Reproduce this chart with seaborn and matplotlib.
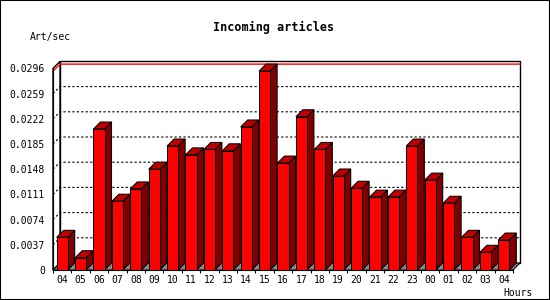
import matplotlib
matplotlib.use("Agg")
import matplotlib.pyplot as plt
from matplotlib.patches import Polygon, Rectangle
import numpy as np
import pandas as pd
import seaborn as sns

# ---- data ----
hours = ["04", "05", "06", "07", "08", "09", "10", "11", "12", "13", "14", "15",
         "16", "17", "18", "19", "20", "21", "22", "23", "00", "01", "02", "03", "04"]
values = [0.0048, 0.0018, 0.0207, 0.0101, 0.0119, 0.0148, 0.0182, 0.0169, 0.0177,
          0.0175, 0.0210, 0.0292, 0.0157, 0.0225, 0.0177, 0.0138, 0.0120, 0.0107,
          0.0107, 0.0182, 0.0132, 0.0098, 0.0048, 0.0026, 0.0044]
y_ticks = [0, 0.0037, 0.0074, 0.0111, 0.0148, 0.0185, 0.0222, 0.0259, 0.0296]
y_tick_labels = ["0", "0.0037", "0.0074", "0.0111", "0.0148", "0.0185",
                 "0.0222", "0.0259", "0.0296"]
title = "Incoming articles"
y_label = "Art/sec"
x_label = "Hours"

FRONT = "#ff0000"
TOP = "#c00000"
SIDE = "#800000"
FLOOR = "#8a8a8a"
DEPTH_PX = 7

plt.rcParams['font.family'] = ['DejaVu Sans Mono', 'DejaVu Sans']

fig = plt.figure(figsize=(5.5, 3), dpi=100, facecolor='white')
ax = fig.add_axes([53 / 550, 30 / 300, 460 / 550, 201.6 / 300])
df = pd.DataFrame({"slot": list(range(len(hours))), "rate": values})
sns.barplot(data=df, x="slot", y="rate", color=FRONT, saturation=1, width=0.6,
            edgecolor="black", linewidth=0.75, ax=ax)
bars = list(ax.patches)

x0, x1 = -0.5, len(hours) - 0.5
ymax = y_ticks[-1]
ax.set_xlim(x0, x1)
ax.set_ylim(0, ymax)
ax.set_facecolor("none")

# depth offsets in data units derived from the axes scales
p0 = ax.transData.transform((0, 0))
p1 = ax.transData.transform((1, ymax))
dx = DEPTH_PX / (p1[0] - p0[0])
dy = DEPTH_PX * ymax / (p1[1] - p0[1])

# back wall
ax.add_patch(Rectangle((x0 + dx, dy), x1 - x0, ymax, facecolor="white",
                       edgecolor="black", linewidth=1, zorder=0.5, clip_on=False))
# left side wall
ax.add_patch(Polygon([(x0, 0), (x0, ymax), (x0 + dx, ymax + dy), (x0 + dx, dy)],
                     closed=True, facecolor="white", edgecolor="black",
                     linewidth=1, zorder=0.55, clip_on=False))
# gridlines
for t in y_ticks[1:-1]:
    ax.plot([x0, x0 + dx, x1 + dx], [t, t + dy, t + dy], color="black",
            linestyle=(0, (2, 2)), linewidth=0.8, zorder=0.6, clip_on=False)
# floor
ax.add_patch(Polygon([(x0, 0), (x1, 0), (x1 + dx, dy), (x0 + dx, dy)], closed=True,
                     facecolor=FLOOR, edgecolor="black", linewidth=0.75,
                     zorder=0.7, clip_on=False))
# maximum line
m = max(values)
ax.plot([x0, x0 + dx, x1 + dx], [m, m + dy, m + dy], color="red", linewidth=1,
        zorder=0.8, clip_on=False)

# 3D faces of bars
for i, b in enumerate(bars):
    x = b.get_x()
    w = b.get_width()
    h = b.get_height()
    z = 3 + i * 0.01
    ax.add_patch(Polygon([(x + w, 0), (x + w, h), (x + w + dx, h + dy), (x + w + dx, dy)],
                         closed=True, facecolor=SIDE, edgecolor="black",
                         linewidth=0.75, zorder=z, clip_on=False))
    ax.add_patch(Polygon([(x, h), (x + w, h), (x + w + dx, h + dy), (x + dx, h + dy)],
                         closed=True, facecolor=TOP, edgecolor="black",
                         linewidth=0.75, zorder=z, clip_on=False))
    b.set_zorder(z + 0.001)

# ticks
ax.set_yticks(y_ticks, labels=y_tick_labels)
ax.tick_params(axis="y", length=0, pad=5.8, labelsize=7)
ax.set_xticks(range(len(hours)), labels=hours)
ax.set_xticks(np.arange(x0, x1 + 0.01, 1), minor=True)
ax.tick_params(axis="x", which="major", length=0, pad=3.5, labelsize=7)
ax.tick_params(axis="x", which="minor", length=2.5, width=0.75, direction="out")
ax.set_xlabel("")
ax.set_ylabel("")
for s in ["top", "right"]:
    ax.spines[s].set_visible(False)
for s in ["left", "bottom"]:
    ax.spines[s].set_linewidth(0.8)
    ax.spines[s].set_zorder(2.5)

# texts
fig.text(273.5 / 550, 1 - 27 / 300, title, ha="center", va="center",
         fontsize=8.5, fontweight="bold")
fig.text(30 / 550, 1 - 37 / 300, y_label, ha="left", va="center", fontsize=7)
fig.text(533 / 550, 1 - 293 / 300, x_label, ha="right", va="center", fontsize=7)

# outer border
fig.add_artist(Rectangle((0, 0), 1, 1, transform=fig.transFigure, fill=False,
                         edgecolor="black", linewidth=1.5))

fig.savefig("out.png", dpi=100, facecolor="white")
